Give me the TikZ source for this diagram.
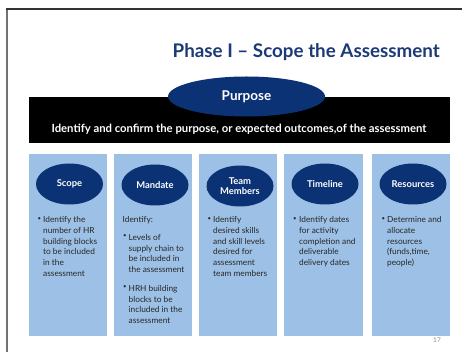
\documentclass[tikz,border=0pt]{standalone}
\usepackage{fontspec}
\setmainfont{Lato}
\usetikzlibrary{shapes.geometric}
\definecolor{navy}{HTML}{0B3275}
\definecolor{titleblue}{HTML}{1C3A78}
\definecolor{colblue}{HTML}{9DC1E6}
\definecolor{bodytext}{HTML}{262626}
\tikzset{
  col/.style={fill=colblue, draw=none, anchor=north west, minimum width=78pt, minimum height=182pt, inner sep=0pt},
  hdr/.style={ellipse, fill=navy, draw=none, text=white, font=\fontsize{9.4}{10.5}\selectfont\bfseries, minimum width=67pt, minimum height=41pt, inner sep=0pt, align=center},
  body/.style={anchor=north west, inner sep=0pt, align=left, text=bodytext, font=\fontsize{8.3}{10.7}\selectfont},
  bul/.style={anchor=north west, inner sep=0pt, text=bodytext, font=\fontsize{6}{10.7}\selectfont},
}
\begin{document}
\begin{tikzpicture}[x=1pt,y=-1pt]
\useasboundingbox (0,0) rectangle (462,352);
\fill[white] (0,0) rectangle (462,352);
% slide frame
\draw[line width=2pt, draw=black!55] (7,9) -- (7,352);
\draw[line width=1.5pt, draw=black!80] (6,9) -- (462,9);
% title
\node[anchor=base east, text=titleblue, font=\fontsize{18.8}{21}\selectfont\bfseries, inner sep=0pt] (title) at (440,58) {Phase I -- Scope the Assessment};
% black bar
\fill[black] (29,97) rectangle (450,143);
\node[anchor=base, text=white, font=\fontsize{11.3}{13}\selectfont\bfseries, inner sep=0pt] (purposetext) at (239,133) {Identify and confirm the purpose, or expected outcomes,of the assessment};
\node[ellipse, fill=navy, draw=none, text=white, font=\fontsize{13.5}{15}\selectfont\bfseries, minimum width=157pt, minimum height=40pt, inner sep=0pt] (purpose) at (246.5,96.5) {Purpose};
% columns
\node[col] (c1) at (29,154) {};
\node[col] (c2) at (114,154) {};
\node[col] (c3) at (199,154) {};
\node[col, minimum width=79pt] (c4) at (284,154) {};
\node[col] (c5) at (372,154) {};
% headers
\node[hdr] (h1) at (69.5,184) {Scope};
\node[hdr] (h2) at (155,185) {Mandate};
\node[hdr] (h3) at (240,186) {Team\\Members};
\node[hdr] (h4) at (325,184) {Timeline};
\node[hdr] (h5) at (413,184) {Resources};
% column 1
\node[bul] (b1) at (37.5,217) {\textbullet};
\node[body] (t1) at (43,216.5) {Identify the\\number of HR\\building blocks\\to be included\\in the\\assessment};
% column 2
\node[body] (t2a) at (122.5,216.5) {Identify:};
\node[bul] (b2a) at (123,234.5) {\textbullet};
\node[body] (t2b) at (128.5,234) {Levels of\\supply chain to\\be included in\\the assessment};
\node[bul] (b2b) at (123,285.5) {\textbullet};
\node[body] (t2c) at (128.5,285) {HRH building\\blocks to be\\included in the\\assessment};
% column 3
\node[bul] (b3) at (207.5,217) {\textbullet};
\node[body] (t3) at (213,216.5) {Identify\\desired skills\\and skill levels\\desired for\\assessment\\team members};
% column 4
\node[bul] (b4) at (293,217) {\textbullet};
\node[body] (t4) at (299,216.5) {Identify dates\\for activity\\completion and\\deliverable\\delivery dates};
% column 5
\node[bul] (b5) at (381.5,217) {\textbullet};
\node[body] (t5) at (387,216.5) {Determine and\\allocate\\resources\\(funds,time,\\people)};
% page number
\node[anchor=base, text=black!45, font=\fontsize{6.5}{8}\selectfont, inner sep=0pt] (pg) at (437,342) {17};
\end{tikzpicture}
\end{document}
